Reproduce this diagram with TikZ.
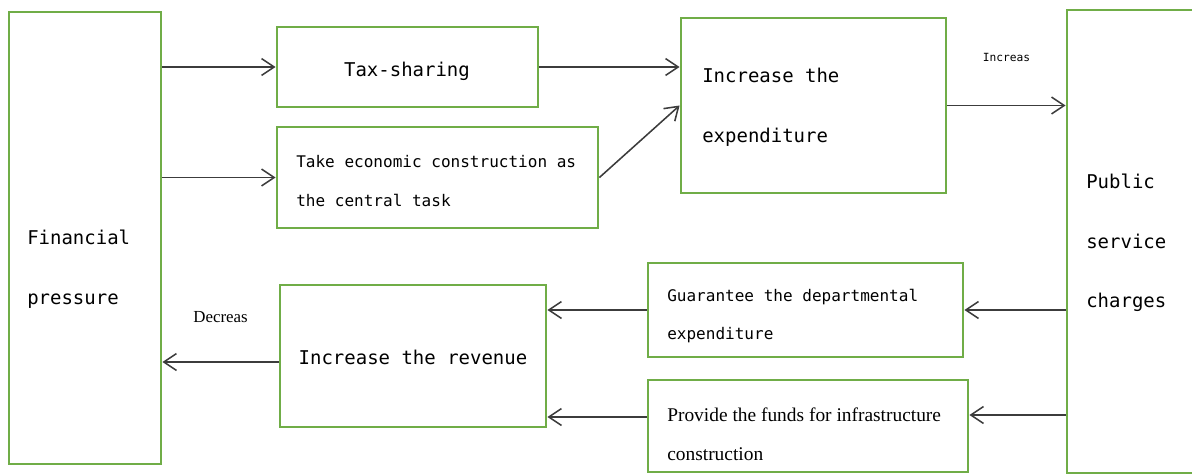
\documentclass[tikz,border=0pt]{standalone}
\usepackage{fontspec}
\setmainfont{Liberation Serif}
\setmonofont{DejaVu Sans Mono}
\usetikzlibrary{arrows.meta,fit,calc}

\definecolor{boxgreen}{RGB}{112,173,71}
\definecolor{linegray}{RGB}{60,60,60}

\begin{document}
\begin{tikzpicture}[x=0.025cm,y=-0.025cm,
    box/.style={draw=boxgreen,line width=2pt,inner sep=0pt},
    flow/.style={-{Straight Barb[length=9pt,width=12pt]},draw=linegray,line width=1.1pt},
    bigtxt/.style={font=\ttfamily\fontsize{13.5}{42.5}\selectfont,align=left,inner sep=0pt,anchor=west},
    midtxt/.style={font=\ttfamily\fontsize{11.4}{27.5}\selectfont,align=left,inner sep=0pt,anchor=west},
    sertxt/.style={font=\fontsize{13.8}{27.5}\selectfont,align=left,inner sep=0pt,anchor=west}]
        \path[use as bounding box,clip] (0,0) rectangle (1192,475);

        % Boxes
        \node[box,fit={(9,12) (161,464)}] (fin) {};
        \node[box,fit={(277,27) (538,107)}] (tax) {};
        \node[box,fit={(277,127) (598,228)}] (task) {};
        \node[box,fit={(681,18) (946,193)}] (incexp) {};
        \node[box,fit={(1067,10) (1205,473)}] (pub) {};
        \node[box,fit={(648,263) (963,357)}] (guar) {};
        \node[box,fit={(648,380) (968,472)}] (prov) {};
        \node[box,fit={(280,285) (546,427)}] (increv) {};

        % Texts
        \node[bigtxt] (finlbl) at (27,269) {Financial\\pressure};
        \node[bigtxt,anchor=center] (taxlbl) at (407,71) {Tax-sharing};
        \node[midtxt] (tasklbl) at (296,181) {Take economic construction as\\the central task};
        \node[bigtxt] (incexplbl) at (702,107) {Increase the\\expenditure};
        \node[bigtxt] (publbl) at (1086,243) {Public\\service\\charges};
        \node[midtxt] (guarlbl) at (667,316) {Guarantee the departmental\\expenditure};
        \node[sertxt] (provlbl) at (667,434) {Provide the funds for infrastructure\\construction};
        \node[bigtxt,anchor=center] (increvlbl) at (413,357) {Increase the revenue};

        % Arrows
        \draw[flow] (fin.east |- tax.west) -- (tax.west);
        \draw[flow] (fin.east |- task.west) -- (task.west);
        \draw[flow] (tax.east) -- (tax.east -| incexp.west);
        \draw[flow] (task.east) -- (incexp.west);
        \draw[flow] (incexp.east) -- (incexp.east -| pub.west)
            node[midway,above=27pt,font=\ttfamily\fontsize{8}{9}\selectfont] (inclbl) {Increas};
        \draw[flow] (guar.east -| pub.west) -- (guar.east);
        \draw[flow] ($(prov.east -| pub.west)+(0,-11)$) -- ($(prov.east)+(0,-11)$);
        \draw[flow] (guar.west) -- (guar.west -| increv.east);
        \draw[flow] ($(prov.west)+(0,-9)$) -- ($(prov.west -| increv.east)+(0,-9)$);
        \draw[flow] ($(increv.west)+(0,6)$) -- ($(increv.west -| fin.east)+(0,6)$)
            node[pos=0.5,above=24pt,font=\fontsize{12}{13}\selectfont] (declbl) {Decreas};
\end{tikzpicture}
\end{document}
